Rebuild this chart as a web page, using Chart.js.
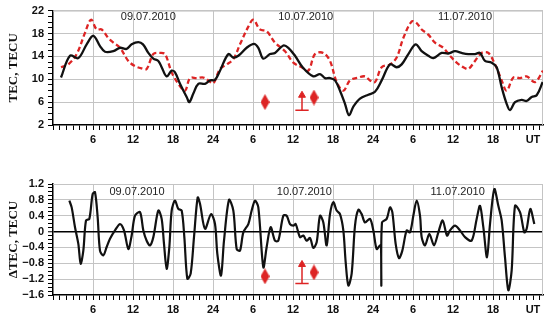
<!DOCTYPE html>
<html>
<head>
<meta charset="utf-8">
<script src="https://cdn.jsdelivr.net/npm/chart.js@4"></script>
<style>
  body { margin: 0; background: #fff; }
  canvas { display: block; }
</style>
</head>
<body>
<canvas id="tec" width="550" height="160"></canvas>
<canvas id="dtec" width="550" height="160"></canvas>
<script>
// hours since 09.07.2010 00 UT
const tecObsHours = [1.2, 2.55, 3.8, 5.05, 6.05, 7.05, 7.8, 9.05, 10.05, 11.05, 11.8, 12.8, 13.5, 14.3, 15.05, 15.8, 16.3, 17.05, 17.8, 18.3, 19.05, 20.05, 20.45, 21.05, 21.8, 22.8, 23.55, 24.3, 25.05, 26.3, 27.05, 27.8, 29.05, 30.15, 30.8, 31.55, 32.55, 33.3, 34.55, 35.3, 36.3, 37.5, 39.05, 40.05, 40.8, 41.55, 42.3, 43.05, 43.8, 44.4, 45.05, 46.05, 47.3, 48.3, 49.3, 50.55, 51.55, 52.3, 53.3, 54.4, 55.3, 56.3, 57.05, 58.3, 59.3, 60.3, 61.3, 62.3, 63.3, 64.05, 64.8, 65.8, 66.55, 67.3, 68.05, 68.55, 69.3, 70.3, 71.05, 71.8, 72.55, 73.45];
const tecObs = [10.3, 14.1, 13.7, 16.1, 17.6, 15.8, 14.8, 14.9, 15.5, 15.3, 16.1, 16.5, 16.1, 14.6, 13.6, 13.2, 12.1, 10.5, 11.5, 11.2, 9.2, 6.9, 6.0, 7.5, 9.2, 9.2, 9.8, 9.9, 11.5, 14.4, 13.8, 14.1, 15.5, 16.2, 15.5, 13.6, 14.4, 14.6, 15.9, 15.5, 14.1, 12.0, 10.5, 10.9, 10.2, 10.2, 9.8, 8.0, 5.7, 3.7, 5.2, 6.6, 7.3, 7.8, 9.8, 12.6, 12.1, 12.6, 14.4, 16.1, 14.9, 14.1, 13.7, 14.6, 14.5, 14.9, 14.6, 14.4, 14.4, 14.6, 13.2, 12.9, 12.1, 8.6, 5.7, 4.6, 6.0, 6.4, 6.2, 6.9, 7.2, 9.5];

const tecRefHours = [1.2, 2.3, 3.55, 4.8, 5.7, 6.55, 7.3, 8.3, 9.05, 10.05, 11.3, 12.3, 13.3, 14.05, 15.05, 16.05, 16.8, 17.8, 18.8, 19.8, 20.55, 21.55, 22.55, 23.3, 24.05, 25.05, 26.05, 27.05, 28.05, 29.3, 30.05, 31.05, 32.05, 33.3, 34.8, 36.05, 37.3, 38.3, 39.3, 40.55, 41.55, 42.55, 43.55, 44.55, 45.8, 46.8, 47.55, 48.3, 49.3, 50.55, 51.55, 52.55, 53.8, 54.55, 55.3, 56.3, 57.3, 58.55, 59.55, 60.55, 61.55, 62.3, 63.3, 64.3, 65.3, 66.3, 67.3, 68.05, 69.05, 70.05, 71.05, 72.3, 73.5];
const tecRef = [12.1, 12.6, 14.4, 18.1, 20.4, 18.7, 18.7, 17.2, 16.4, 15.5, 13.2, 12.3, 11.9, 11.8, 14.4, 14.6, 14.4, 11.2, 9.2, 8.0, 10.2, 10.2, 10.3, 9.8, 9.3, 11.8, 12.6, 13.5, 16.1, 19.2, 20.4, 18.7, 18.4, 16.4, 14.9, 12.9, 12.1, 11.5, 14.4, 14.6, 13.2, 9.5, 8.0, 9.8, 10.3, 10.5, 9.8, 9.5, 12.1, 12.6, 13.8, 17.2, 20.1, 19.8, 18.7, 17.8, 16.4, 15.5, 14.1, 12.9, 12.1, 11.8, 13.2, 14.6, 14.6, 12.6, 9.8, 8.0, 10.3, 10.2, 10.5, 9.5, 11.5];

const dtecHours = [2.45, 2.8, 3.3, 3.8, 4.15, 4.55, 4.95, 5.45, 5.95, 6.3,
  6.7, 7.05, 7.55, 8.05, 8.55, 9.3, 10.05, 10.65, 11.3, 11.8,
  12.3, 13.05, 13.55, 14.05, 14.55, 15.05, 15.8, 16.3, 16.65, 17.05,
  17.45, 17.8, 18.3, 18.8, 19.3, 19.7, 20.15, 20.65, 21.15, 21.7,
  22.05, 22.8, 23.7, 24.3, 24.65, 25.2, 25.65, 26.4, 27.05, 27.55,
  28.05, 28.55, 29.3, 29.8, 30.3, 30.8, 31.55, 32.05, 32.65, 33.3,
  33.8, 34.55, 35.05, 35.55, 36.05, 36.4, 37.05, 37.55, 38.05, 38.55,
  39.05, 39.55, 40.05, 40.55, 41.05, 41.55, 42.05, 42.55, 43.05, 43.55,
  43.9, 44.3, 44.8, 45.3, 45.8, 46.3, 46.8, 47.55, 48.05, 48.55,
  49.05, 49.2, 49.25, 49.35, 50.05, 50.55, 50.9, 51.4, 51.9, 52.4,
  53.05, 53.55, 54.05, 54.55, 55.05, 55.3, 55.8, 56.45, 57.15, 57.8,
  58.45, 59.1, 59.55, 60.3, 61.05, 61.8, 62.8, 63.55, 64.05, 64.55,
  65.1, 65.55, 66.2, 66.8, 67.3, 67.8, 68.3, 68.8, 69.3, 70.05,
  70.7, 71.05, 71.6, 72.2];
const dtec = [0.78, 0.61, 0.11, -0.31, -0.81, -0.48, 0.28, 0.32, 0.95, 0.99,
  0.36, -0.48, -0.60, -0.39, -0.18, 0.03, 0.19, 0.03, -0.44, -0.10,
  0.40, 0.49, 0.03, -0.23, -0.35, -0.14, 0.53, 0.32, -0.31, -0.94,
  -0.39, 0.53, 0.78, 0.57, 0.53, -0.14, -1.19, -1.06, -0.14, 0.86,
  0.70, 0.07, 0.44, 0.19, -0.56, -1.11, -0.23, 0.80, 0.53, -0.44,
  -0.48, -0.02, 0.19, 0.53, 0.78, 0.61, -0.90, -0.39, 0.11, -0.23,
  -0.23, 0.40, 0.40, 0.19, 0.15, 0.19, -0.14, -0.10, -0.23, -0.16,
  -0.41, -0.27, 0.40, 0.23, -0.35, 0.44, 0.74, 0.53, 0.44, 0.03,
  -0.77, -1.36, -1.06, 0.15, 0.55, 0.44, 0.23, 0.32, 0.03, -0.44,
  -0.35, -0.38, -1.36, 0.23, 0.32, 0.61, 0.49, -0.31, -0.67, -0.48,
  0.03, -0.02, 0.40, 0.78, 0.40, -0.14, -0.35, -0.06, -0.35, -0.02,
  0.28, -0.10, 0.03, 0.15, 0.03, -0.14, -0.23, 0.32, 0.65, 0.11,
  -0.65, 0.19, 1.07, 0.65, 0.28, -0.65, -1.48, -0.98, 0.65, 0.49,
  -0.02, 0.07, 0.57, 0.19];

// axis ticks
const hourTicks = [6, 12, 18, 24, 30, 36, 42, 48, 54, 60, 66, 72];
const hourLabels = ["6", "12", "18", "24", "6", "12", "18", "24", "6", "12", "18", "UT"];
const tecTicks = [2, 6, 10, 14, 18, 22];
const dtecTicks = [-1.6, -1.2, -0.8, -0.4, 0, 0.4, 0.8, 1.2];
const dtecLabels = ["\u22121.6", "\u22121.2", "\u22120.8", "\u22120.4", "0", "0.4", "0.8", "1.2"];

// dates and event markers
const dateLabels = ["09.07.2010", "10.07.2010", "11.07.2010"];
const dateHoursTop = [14.3, 37.9, 61.8];
const dateHoursBottom = [12.6, 37.7, 60.7];
const diamondHours = [31.8, 39.15];
const diamondTec = [6.0, 6.8];
const diamondDtec = [-1.13, -1.03];
const arrowHour = 37.35;
const arrowTec = [4.6, 7.0];
const arrowDtec = [-1.31, -0.86];

const RED = "#dd2424";
const INK = "#111";
const GRID = "#c4c4c4";
const SANS = '"Liberation Sans", Arial, sans-serif';
const SERIF = '"Liberation Serif", "Times New Roman", serif';

function pts(xs, ys) {
  return xs.map((x, i) => ({ x: x, y: ys[i] }));
}

function makeDiamond(w, h) {
  const c = document.createElement("canvas");
  c.width = w;
  c.height = h;
  const g = c.getContext("2d");
  g.fillStyle = RED;
  g.beginPath();
  g.moveTo(w / 2, 0);
  g.lineTo(w, h / 2);
  g.lineTo(w / 2, h);
  g.lineTo(0, h / 2);
  g.closePath();
  g.fill();
  return c;
}
const diamondImg = makeDiamond(9, 16);

function near(list, v) {
  return list.findIndex((t) => Math.abs(t - v) < 1e-6);
}

// top/right frame and date captions
const panelDecor = {
  id: "panelDecor",
  beforeDatasetsDraw(chart, args, opts) {
    const { ctx, chartArea: a, scales } = chart;
    ctx.save();
    ctx.strokeStyle = GRID;
    ctx.lineWidth = 1;
    ctx.beginPath();
    ctx.moveTo(a.left, a.top + 0.5);
    ctx.lineTo(a.right, a.top + 0.5);
    ctx.moveTo(a.right - 0.5, a.top);
    ctx.lineTo(a.right - 0.5, a.bottom);
    ctx.stroke();
    ctx.font = "11px " + SANS;
    ctx.fillStyle = "#222";
    ctx.textAlign = "center";
    ctx.textBaseline = "middle";
    opts.hours.forEach((h, i) => {
      ctx.fillText(dateLabels[i], scales.x.getPixelForValue(h), scales.y.getPixelForValue(opts.level));
    });
    ctx.restore();
  },
};

function xScale(axisHeight) {
  return {
    type: "linear",
    min: 0,
    max: 73.5,
    afterBuildTicks: (s) => {
      const t = [];
      for (let h = 0; h <= 73; h++) t.push({ value: h });
      s.ticks = t;
    },
    afterFit: (s) => { s.height = axisHeight; },
    border: { color: "#000", width: 1.5 },
    grid: {
      color: (c) => (c.tick && near(hourTicks, c.tick.value) >= 0 && c.tick.value < 72 ? GRID : "transparent"),
      lineWidth: 1,
      tickColor: "#000",
      tickWidth: 1,
      tickLength: 5,
    },
    ticks: {
      autoSkip: false,
      maxRotation: 0,
      minRotation: 0,
      padding: 3,
      color: INK,
      font: { family: SANS, size: 11, weight: "bold" },
      callback: (v) => {
        const i = near(hourTicks, v);
        return i >= 0 ? hourLabels[i] : "";
      },
    },
  };
}

function yScale(min, max, step, majors, labels, title, zeroLine) {
  return {
    min: min,
    max: max,
    afterBuildTicks: (s) => {
      const t = [];
      const n = Math.round((max - min) / step);
      for (let k = 0; k <= n; k++) t.push({ value: Math.round((min + k * step) * 1000) / 1000 });
      s.ticks = t;
    },
    afterFit: (s) => { s.width = 53; },
    border: { color: "#000", width: 1.5 },
    grid: {
      color: (c) => {
        if (!c.tick) return "transparent";
        const v = c.tick.value;
        if (zeroLine && Math.abs(v) < 1e-6) return "#000";
        return near(majors, v) >= 0 && Math.abs(v - min) > 1e-6 ? GRID : "transparent";
      },
      lineWidth: (c) => (zeroLine && c.tick && Math.abs(c.tick.value) < 1e-6 ? 1.5 : 1),
      tickColor: "#000",
      tickWidth: 1,
      tickLength: 5,
    },
    ticks: {
      autoSkip: false,
      padding: 4,
      color: INK,
      font: { family: SANS, size: 11, weight: "bold" },
      callback: (v) => {
        const i = near(majors, v);
        return i >= 0 ? labels[i] : "";
      },
    },
    title: {
      display: true,
      text: title,
      color: INK,
      font: { family: SERIF, size: 13, weight: "bold" },
      padding: { top: 6, bottom: 0 },
    },
  };
}

function markerSets(markY, arrowY, headY) {
  return [
    {
      data: pts(diamondHours, markY),
      showLine: false,
      pointStyle: diamondImg,
      pointRadius: 5,
    },
    {
      data: pts([arrowHour, arrowHour], arrowY),
      borderColor: RED,
      borderWidth: 1.5,
      pointRadius: 0,
      tension: 0,
    },
    {
      data: pts([arrowHour - 1, arrowHour + 1], [arrowY[0], arrowY[0]]),
      borderColor: RED,
      borderWidth: 1.5,
      pointRadius: 0,
      tension: 0,
    },
    {
      data: pts([arrowHour], [headY]),
      showLine: false,
      pointStyle: "triangle",
      pointRadius: 4,
      backgroundColor: RED,
      borderColor: RED,
      borderWidth: 1,
    },
  ];
}

const common = {
  responsive: false,
  animation: false,
  devicePixelRatio: 1,
  plugins: { legend: { display: false }, tooltip: { enabled: false } },
};

new Chart(document.getElementById("tec").getContext("2d"), {
  type: "line",
  data: {
    datasets: [
      ...markerSets(diamondTec, [arrowTec[0], arrowTec[1]], 7.2),
      {
        data: pts(tecObsHours, tecObs),
        borderColor: INK,
        borderWidth: 2.3,
        pointRadius: 0,
        tension: 0.35,
      },
      {
        data: pts(tecRefHours, tecRef),
        borderColor: RED,
        borderWidth: 2.3,
        borderDash: [5, 3],
        pointRadius: 0,
        tension: 0.35,
      },
    ],
  },
  options: {
    ...common,
    layout: { padding: { top: 9, right: 7, left: 0, bottom: 0 } },
    scales: {
      x: xScale(35),
      y: yScale(2, 22, 1, tecTicks, tecTicks.map(String), "TEC, TECU", false),
    },
    plugins: { ...common.plugins, panelDecor: { hours: dateHoursTop, level: 20.9 } },
  },
  plugins: [panelDecor],
});

new Chart(document.getElementById("dtec").getContext("2d"), {
  type: "line",
  data: {
    datasets: [
      ...markerSets(diamondDtec, [arrowDtec[0], arrowDtec[1]], -0.83),
      {
        data: pts(dtecHours, dtec),
        borderColor: INK,
        borderWidth: 2.2,
        pointRadius: 0,
        tension: 0.3,
      },
    ],
  },
  options: {
    ...common,
    layout: { padding: { top: 24, right: 7, left: 0, bottom: 0 } },
    scales: {
      x: xScale(25),
      y: yScale(-1.6, 1.2, 0.1, dtecTicks, dtecLabels, "\u0394TEC, TECU", true),
    },
    plugins: { ...common.plugins, panelDecor: { hours: dateHoursBottom, level: 1.0 } },
  },
  plugins: [panelDecor],
});
</script>
</body>
</html>
